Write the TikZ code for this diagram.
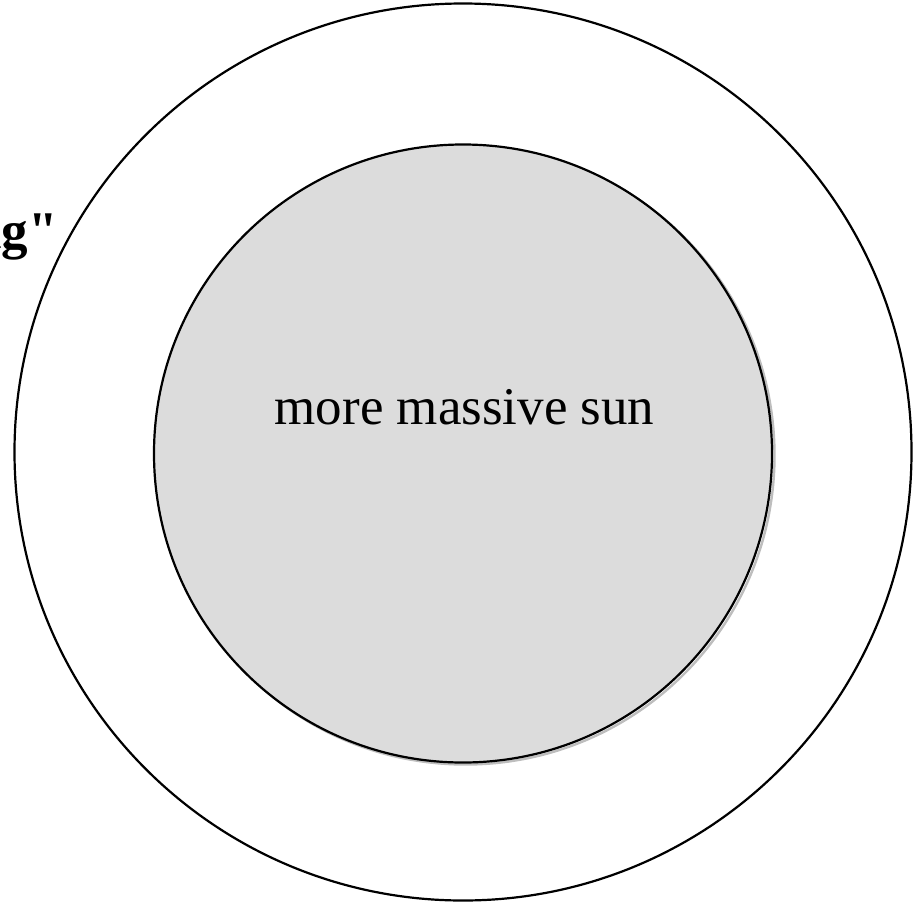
\documentclass[tikz,border=0pt]{standalone}
\usepackage{fontspec}
\setmainfont{Liberation Serif}
\usepackage{tikz}
\usetikzlibrary{positioning}
\definecolor{Line}{HTML}{000000}
\definecolor{Sun}{HTML}{DCDCDC}
\definecolor{Shade}{HTML}{BEBEBE}
\newcommand{\plainquote}{\XeTeXglyph\XeTeXcharglyph"22\relax}

\begin{document}
\begin{tikzpicture}[
 x=1pt,y=-1pt,
 orbit/.style={draw=Line,line width=2.2pt},
 sun/.style={draw=Line,line width=2.2pt,fill=Sun},
 shade/.style={draw=Shade,line width=2.4pt},
 lbl/.style={inner sep=0pt,font=\fontsize{53}{60}\selectfont},
 zone/.style={inner sep=0pt,font=\fontsize{53}{60}\selectfont\bfseries}
]
\useasboundingbox (0,0) rectangle (920,902);
\clip (0,0) rectangle (920,902);
\draw[orbit] (463,452) circle[radius=448.5pt];
\draw[shade] (465.5,455.5) circle[radius=309pt];
\draw[sun] (463,453.5) circle[radius=309pt];
\node[lbl,anchor=base] (name) at (464.5,424) {more massive sun};
\node[zone,anchor=base east] (ring) at (58,248) {ng\plainquote};
\end{tikzpicture}
\end{document}
